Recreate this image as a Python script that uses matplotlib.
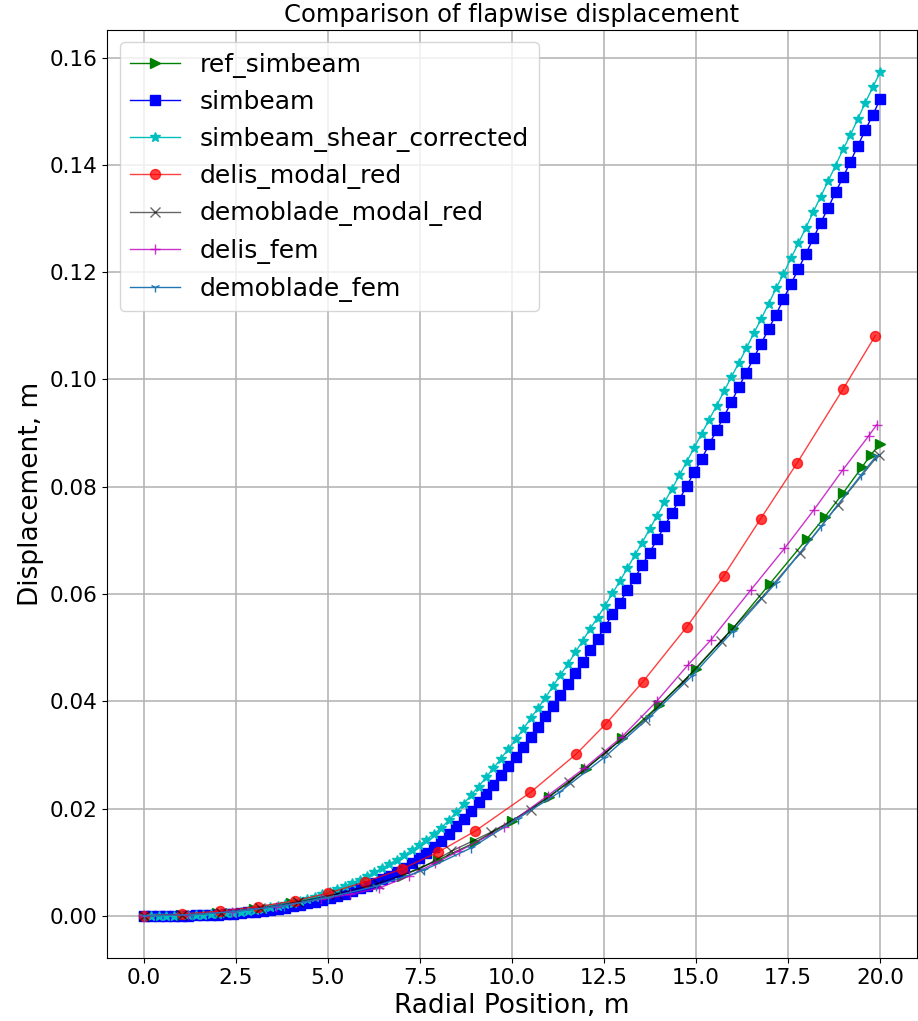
import numpy as np
import matplotlib
matplotlib.use("Agg")
import matplotlib.pyplot as plt

# ---- data ----
x_sim = np.linspace(0, 20, 100)

simbeam_shear = [
    0.00000, 0.00000, 0.00000, 0.00001, 0.00003, 0.00006, 0.00009, 0.00014, 0.00020, 0.00027,
    0.00037, 0.00047, 0.00060, 0.00075, 0.00092, 0.00111, 0.00132, 0.00156, 0.00183, 0.00212,
    0.00244, 0.00279, 0.00317, 0.00358, 0.00402, 0.00450, 0.00501, 0.00555, 0.00613, 0.00676,
    0.00742, 0.00811, 0.00885, 0.00962, 0.01045, 0.01131, 0.01221, 0.01317, 0.01420, 0.01530,
    0.01640, 0.01780, 0.01930, 0.02090, 0.02250, 0.02410, 0.02580, 0.02750, 0.02930, 0.03110,
    0.03290, 0.03480, 0.03680, 0.03870, 0.04070, 0.04280, 0.04490, 0.04690, 0.04910, 0.05130,
    0.05350, 0.05560, 0.05780, 0.06010, 0.06240, 0.06480, 0.06720, 0.06960, 0.07210, 0.07460,
    0.07710, 0.07960, 0.08210, 0.08470, 0.08730, 0.08990, 0.09250, 0.09510, 0.09780, 0.10050,
    0.10310, 0.10580, 0.10860, 0.11130, 0.11410, 0.11700, 0.11970, 0.12260, 0.12540, 0.12830,
    0.13120, 0.13410, 0.13700, 0.13990, 0.14290, 0.14560, 0.14860, 0.15160, 0.15450, 0.15730,
]

simbeam = [
    0.00000, 0.00000, 0.00000, 0.00001, 0.00002, 0.00004, 0.00005, 0.00009, 0.00012, 0.00017,
    0.00023, 0.00030, 0.00039, 0.00050, 0.00062, 0.00075, 0.00091, 0.00109, 0.00129, 0.00151,
    0.00175, 0.00202, 0.00231, 0.00262, 0.00295, 0.00330, 0.00370, 0.00410, 0.00460, 0.00510,
    0.00560, 0.00620, 0.00680, 0.00750, 0.00820, 0.00900, 0.00980, 0.01070, 0.01170, 0.01280,
    0.01400, 0.01530, 0.01670, 0.01810, 0.01960, 0.02120, 0.02270, 0.02430, 0.02620, 0.02790,
    0.02960, 0.03150, 0.03330, 0.03520, 0.03720, 0.03910, 0.04110, 0.04330, 0.04530, 0.04730,
    0.04950, 0.05170, 0.05390, 0.05620, 0.05840, 0.06070, 0.06290, 0.06540, 0.06770, 0.07020,
    0.07260, 0.07510, 0.07760, 0.08020, 0.08270, 0.08520, 0.08790, 0.09050, 0.09310, 0.09580,
    0.09860, 0.10130, 0.10400, 0.10670, 0.10940, 0.11210, 0.11500, 0.11780, 0.12060, 0.12340,
    0.12630, 0.12920, 0.13200, 0.13490, 0.13770, 0.14060, 0.14360, 0.14650, 0.14930, 0.15230,
]

x_ref = [0, 1, 2, 3, 4, 5, 6, 7, 8, 9, 10, 11, 12, 13, 14, 15, 16, 17, 18, 18.5, 19, 19.5, 19.75, 20]
ref_simbeam = [0.0, 0.00015, 0.0006, 0.0013, 0.0023, 0.0036, 0.0053, 0.0075, 0.0104, 0.0137,
               0.0177, 0.0222, 0.0274, 0.0331, 0.0393, 0.0461, 0.0536, 0.0619, 0.0702, 0.0744,
               0.0789, 0.0836, 0.0860, 0.0880]

x_delis_mr = [0, 1.03, 2.06, 3.09, 4.1, 5.0, 6.0, 7.0, 8.0, 9.0, 10.5, 11.75, 12.55, 13.55,
              14.75, 15.75, 16.75, 17.75, 19.0, 19.87]
delis_modal_red = [0.0, 0.0003, 0.0009, 0.0017, 0.0028, 0.0042, 0.0063, 0.0087, 0.0119, 0.0158,
                   0.0230, 0.0302, 0.0358, 0.0436, 0.0539, 0.0634, 0.0740, 0.0845, 0.0983, 0.1082]

x_demo_mr = [0, 1.05, 2.1, 3.15, 4.2, 5.26, 6.35, 7.48, 8.34, 9.43, 10.52, 11.56, 12.55, 13.62,
             14.65, 15.68, 16.77, 17.83, 18.85, 19.96]
demoblade_modal_red = [0.0, 0.00015, 0.0006, 0.0014, 0.0026, 0.0041, 0.0060, 0.0087, 0.0120, 0.0156,
                       0.0198, 0.0249, 0.0305, 0.0366, 0.0436, 0.0513, 0.0592, 0.0677, 0.0766, 0.0860]

x_delis_fem = [0, 1.2, 2.4, 3.6, 4.8, 5.6, 6.4, 7.2, 7.9, 8.57, 9.79, 10.97, 11.96, 12.99, 13.93,
               14.77, 15.41, 16.48, 17.4, 18.2, 18.98, 19.69, 19.91]
delis_fem = [0.0, 0.0002, 0.0008, 0.0017, 0.0031, 0.0040, 0.0052, 0.0074, 0.0098, 0.0121, 0.0165,
             0.0224, 0.0275, 0.0334, 0.0400, 0.0467, 0.0515, 0.0607, 0.0685, 0.0757, 0.0831,
             0.0895, 0.0916]

x_demo_fem = [0, 1.3, 2.5, 3.8, 5.0, 6.3, 7.6, 8.9, 10.15, 11.28, 12.5, 13.73, 14.9, 15.99,
              17.17, 18.4, 19.48, 19.89]
demoblade_fem = [0.0, 0.0002, 0.0008, 0.0019, 0.0034, 0.0055, 0.0085, 0.0127, 0.0181, 0.0230,
                 0.0295, 0.0370, 0.0448, 0.0530, 0.0621, 0.0726, 0.0822, 0.0857]

# ---- plot ----
fig = plt.figure(figsize=(9.18, 10.21), dpi=100)
ax = fig.add_axes([107 / 918, 63 / 1021, 810 / 918, 928 / 1021])

lw = 1.0
ms = 7.2
ax.plot(x_ref, ref_simbeam, 'g>-', lw=lw, ms=ms, label='ref_simbeam')
ax.plot(x_sim, simbeam, 'bs-', lw=lw, ms=ms, label='simbeam')
ax.plot(x_sim, simbeam_shear, 'c*-', lw=lw, ms=ms, label='simbeam_shear_corrected')
ax.plot(x_delis_mr, delis_modal_red, 'ro-', lw=lw, ms=ms, alpha=0.75, label='delis_modal_red')
ax.plot(x_demo_mr, demoblade_modal_red, 'kx-', lw=lw, ms=ms, alpha=0.6, label='demoblade_modal_red')
ax.plot(x_delis_fem, delis_fem, 'm+-', lw=lw, ms=ms, alpha=0.8, label='delis_fem')
ax.plot(x_demo_fem, demoblade_fem, '1-', color='#1f77b4', lw=lw, ms=ms, label='demoblade_fem')

ax.grid(True, color='#b0b0b0', lw=1.1)
ax.set_title('Comparison of flapwise displacement', fontsize=17.5)
ax.set_xlabel('Radial Position, m', fontsize=19)
ax.set_ylabel('Displacement, m', fontsize=19)
ax.tick_params(labelsize=15.5)
ax.legend(loc='upper left', fontsize=18)

fig.savefig('out.png', dpi=100)
